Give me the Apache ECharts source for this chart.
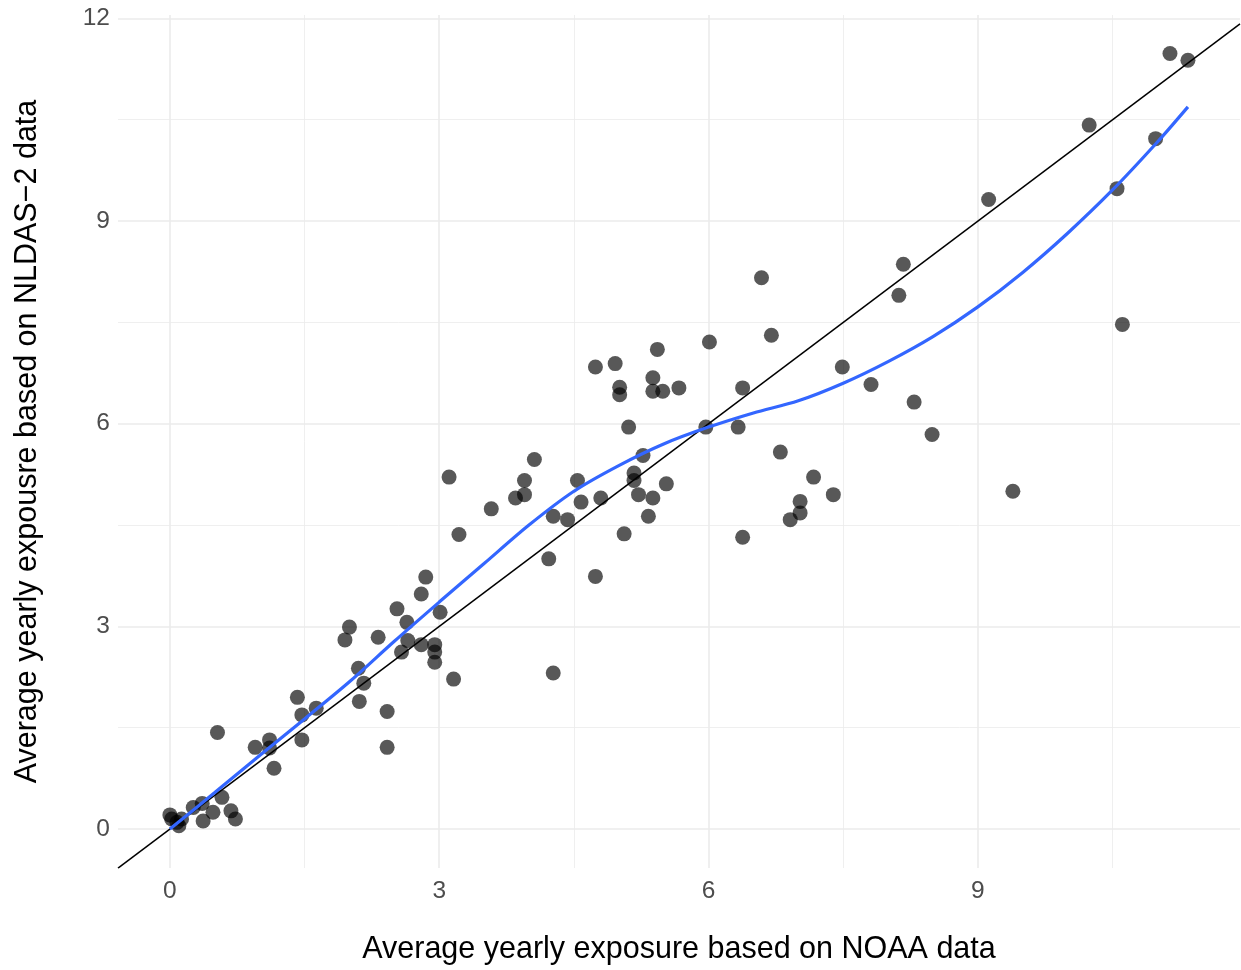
<!DOCTYPE html>
<html>
<head>
<meta charset="utf-8">
<title>NOAA vs NLDAS-2 exposure</title>
<script src="https://cdn.jsdelivr.net/npm/echarts@6/dist/echarts.min.js"></script>
<style>
  html, body { margin: 0; padding: 0; background: #ffffff; }
  #chart { width: 1241px; height: 970px; }
</style>
</head>
<body>
<div id="chart"></div>
<script>
// Average yearly exposure per site: [NOAA, NLDAS-2]
const sites = [
  [0.00, 0.21], [0.02, 0.15], [0.08, 0.10], [0.10, 0.05], [0.13, 0.15],
  [0.26, 0.32], [0.36, 0.38], [0.37, 0.12], [0.48, 0.25], [0.53, 1.43],
  [0.58, 0.47], [0.68, 0.27], [0.73, 0.15], [0.95, 1.21], [1.11, 1.32],
  [1.11, 1.20], [1.16, 0.90], [1.42, 1.95], [1.47, 1.69], [1.47, 1.32],
  [1.63, 1.79], [1.95, 2.80], [2.00, 2.99], [2.10, 2.38], [2.11, 1.89],
  [2.16, 2.16], [2.32, 2.84], [2.42, 1.74], [2.42, 1.21], [2.53, 3.26],
  [2.58, 2.62], [2.64, 3.06], [2.65, 2.79], [2.80, 3.48], [2.80, 2.73],
  [2.85, 3.73], [2.95, 2.73], [2.95, 2.62], [2.95, 2.47], [3.01, 3.21],
  [3.11, 5.21], [3.16, 2.22], [3.22, 4.36], [3.58, 4.74], [3.85, 4.90],
  [3.95, 5.16], [3.95, 4.95], [4.06, 5.47], [4.22, 4.00], [4.27, 4.63],
  [4.27, 2.31], [4.43, 4.58], [4.54, 5.16], [4.58, 4.84], [4.74, 6.84],
  [4.74, 3.74], [4.80, 4.90], [4.96, 6.89], [5.01, 6.54], [5.01, 6.43],
  [5.06, 4.37], [5.11, 5.95], [5.17, 5.27], [5.17, 5.16], [5.22, 4.95],
  [5.27, 5.53], [5.33, 4.63], [5.38, 6.68], [5.38, 6.48], [5.38, 4.90],
  [5.43, 7.10], [5.49, 6.48], [5.53, 5.11], [5.67, 6.53], [5.97, 5.95],
  [6.01, 7.21], [6.33, 5.95], [6.38, 6.53], [6.38, 4.32], [6.59, 8.16],
  [6.70, 7.31], [6.80, 5.58], [6.91, 4.58], [7.02, 4.85], [7.02, 4.68],
  [7.17, 5.21], [7.39, 4.95], [7.49, 6.84], [7.81, 6.58], [8.12, 7.90],
  [8.17, 8.36], [8.29, 6.32], [8.49, 5.84], [9.12, 9.32], [9.39, 5.00],
  [10.24, 10.42], [10.55, 9.48], [10.61, 7.47], [10.98, 10.22], [11.14, 11.48],
  [11.34, 11.38]
];

// Loess smooth of NLDAS-2 on NOAA
const smoothX = [0, 0.5, 1, 1.5, 2, 2.5, 3, 3.5, 4, 4.5, 5, 5.5, 6, 6.5, 7, 7.5,
                 8, 8.5, 9, 9.5, 10, 10.5, 11, 11.34];
const smoothY = [0.00, 0.54, 1.09, 1.63, 2.18, 2.78, 3.36, 3.93, 4.50, 5.00, 5.38, 5.70,
                 5.95, 6.16, 6.34, 6.60, 6.92, 7.29, 7.73, 8.24, 8.82, 9.46, 10.17, 10.69];

// Axis ranges and tick labels
const xRange = [-0.578, 11.92];
const yRange = [-0.576, 12.05];
const xMajor = [0, 3, 6, 9];
const xMinor = [1.5, 4.5, 7.5, 10.5];
const yMajor = [0, 3, 6, 9, 12];
const yMinor = [1.5, 4.5, 7.5, 10.5];

const xTitle = 'Average yearly exposure based on NOAA data';
const yTitle = 'Average yearly expousre based on NLDAS\u22122 data';

const FONT = '"Liberation Sans", Arial, Helvetica, sans-serif';
const GRID_COLOR = '#EBEBEB';

function majorAxis(range, ticks, extra) {
  return Object.assign({
    type: 'value',
    min: range[0],
    max: range[1],
    axisLine: { show: false },
    axisTick: { show: false, customValues: ticks },
    splitLine: { show: true, lineStyle: { color: GRID_COLOR, width: 1.6 } }
  }, extra);
}

function minorAxis(range, ticks, extra) {
  return Object.assign({
    type: 'value',
    min: range[0],
    max: range[1],
    axisLine: { show: false },
    axisTick: { show: false, customValues: ticks },
    axisLabel: { show: false, customValues: ticks },
    splitLine: { show: true, lineStyle: { color: GRID_COLOR, width: 0.8 } }
  }, extra);
}

const chart = echarts.init(document.getElementById('chart'), null, { renderer: 'canvas' });

chart.setOption({
  backgroundColor: '#ffffff',
  animation: false,
  grid: { left: 118, right: 1, top: 15, bottom: 100, containLabel: false },
  xAxis: [
    majorAxis(xRange, xMajor, {
      position: 'bottom',
      axisLabel: { customValues: xMajor, color: '#4D4D4D', fontSize: 24.5, fontFamily: FONT, margin: 11 },
      name: xTitle,
      nameLocation: 'middle',
      nameGap: 66,
      nameTextStyle: { color: '#000000', fontSize: 30.5, fontFamily: FONT }
    }),
    minorAxis(xRange, xMinor, { position: 'top' })
  ],
  yAxis: [
    majorAxis(yRange, yMajor, {
      position: 'left',
      axisLabel: { customValues: yMajor, color: '#4D4D4D', fontSize: 24.5, fontFamily: FONT, margin: 8 },
      name: yTitle,
      nameLocation: 'middle',
      nameGap: 75,
      nameTextStyle: { color: '#000000', fontSize: 30.5, fontFamily: FONT }
    }),
    minorAxis(yRange, yMinor, { position: 'right' })
  ],
  series: [
    {
      name: 'sites',
      type: 'scatter',
      xAxisIndex: 0,
      yAxisIndex: 0,
      data: sites,
      symbol: 'circle',
      symbolSize: 15,
      itemStyle: { color: 'rgba(0,0,0,0.82)' },
      z: 2
    },
    {
      name: 'identity',
      type: 'line',
      xAxisIndex: 0,
      yAxisIndex: 0,
      data: [[xRange[0], xRange[0]], [xRange[1], xRange[1]]],
      showSymbol: false,
      clip: true,
      lineStyle: { color: '#000000', width: 1.5 },
      z: 3
    },
    {
      name: 'loess',
      type: 'line',
      xAxisIndex: 0,
      yAxisIndex: 0,
      data: smoothX.map((x, i) => [x, smoothY[i]]),
      smooth: 0.3,
      showSymbol: false,
      lineStyle: { color: '#3366FF', width: 3.2 },
      z: 4
    }
  ]
});
</script>
</body>
</html>
